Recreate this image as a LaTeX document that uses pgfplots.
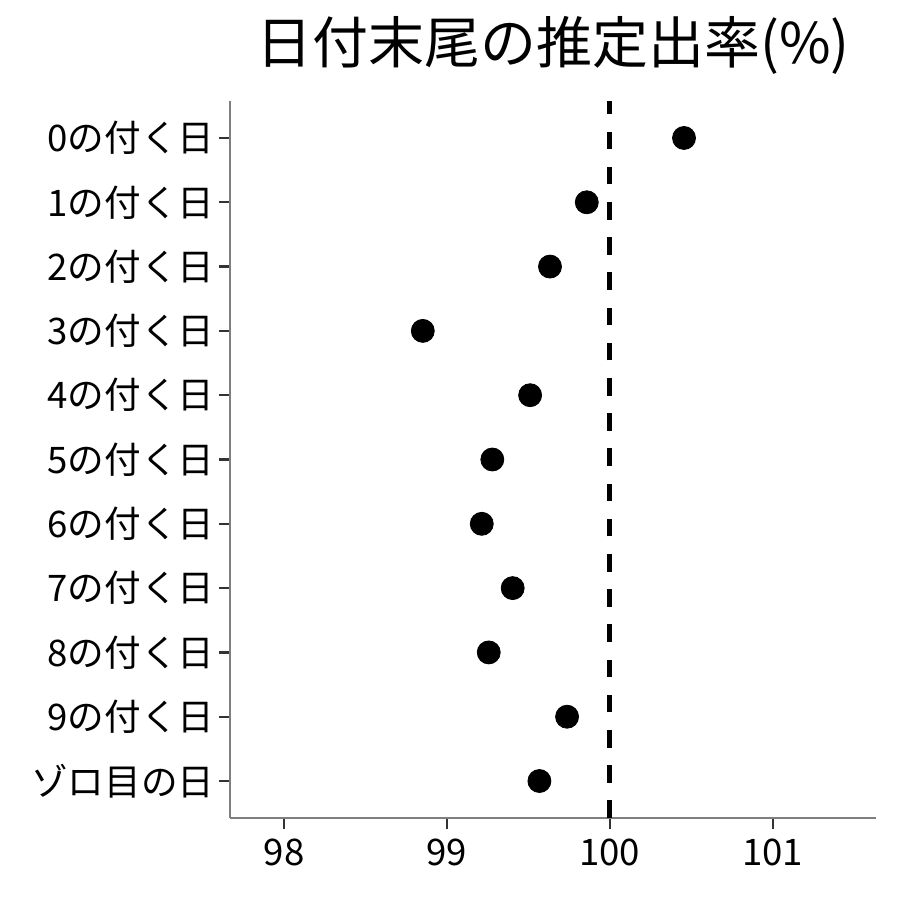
\documentclass[border=0pt]{standalone}
\usepackage{pgfplots}
\pgfplotsset{compat=1.18}
\usepackage{fontspec}
\setmainfont{Noto Sans CJK JP}
\definecolor{axgray}{HTML}{7F7F7F}
\definecolor{tickgray}{HTML}{333333}
\begin{document}
\begin{tikzpicture}
\useasboundingbox (-115pt,-41pt) rectangle (335pt,409pt);
\begin{axis}[
  at={(0,0)}, anchor=south west,
  scale only axis,
  width=323pt, height=358.5pt,
  xmin=97.668, xmax=101.635,
  ymin=-0.575, ymax=10.575,
  axis x line*=bottom, axis y line*=left,
  axis line style={axgray, line width=0.8pt},
  xtick={98,99,100,101},
  ytick={0,1,2,3,4,5,6,7,8,9,10},
  yticklabels={ゾロ目の日,9の付く日,8の付く日,7の付く日,6の付く日,5の付く日,4の付く日,3の付く日,2の付く日,1の付く日,0の付く日},
  tick align=outside,
  major tick length=5.5pt,
  tick style={tickgray, line width=1.1pt},
  ticklabel style={font=\fontsize{18.3pt}{22pt}\selectfont, text=black},
  /pgf/number format/assume math mode=true,
  yticklabel style={xshift=1.2pt},
  xticklabel style={yshift=-1.5pt},
  title={日付末尾の推定出率(\%)},
  title style={at={(0.5,1)}, anchor=center, yshift=22pt, font=\fontsize{28pt}{33pt}\selectfont},
  clip=false,
]
\addplot[black, line width=2.3pt, dash pattern=on 8.8pt off 8.8pt] coordinates {(100,-0.575) (100,10.575)};
\addplot[only marks, mark=*, mark size=5.75pt, black] coordinates {
(100.456,10)
(99.859,9)
(99.633,8)
(98.852,7)
(99.511,6)
(99.279,5)
(99.214,4)
(99.404,3)
(99.257,2)
(99.738,1)
(99.568,0)
};
\end{axis}
\end{tikzpicture}
\end{document}
